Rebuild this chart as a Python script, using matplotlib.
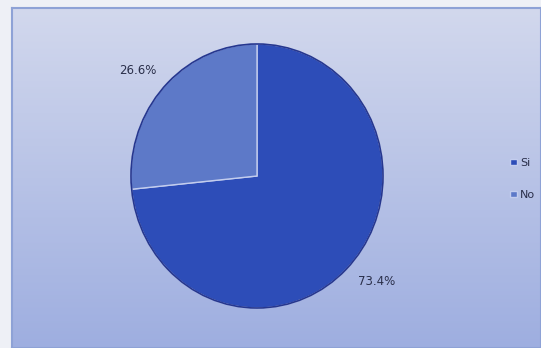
import numpy as np
import matplotlib.pyplot as plt
from matplotlib.patches import Ellipse

labels = ["Si", "No"]
values = [73.4, 26.6]
colors = ["#2d4db8", "#5d79c8"]

W, H = 541, 348
fig = plt.figure(figsize=(W / 100, H / 100), dpi=100)
fig.patch.set_facecolor("#eef0f6")

# gradient fill of the chart area
bg = fig.add_axes([12 / W, 0, 1 - 12 / W, 1 - 8 / H])
top = np.array([210, 216, 237]) / 255
bot = np.array([158, 174, 224]) / 255
t = np.linspace(0, 1, 200)[:, None]
grad = top * (1 - t) + bot * t
bg.imshow(grad[:, None, :].repeat(2, axis=1), aspect="auto", extent=[0, 1, 0, 1])
bg.set_xlim(0, 1)
bg.set_ylim(0, 1)
bg.set_xticks([])
bg.set_yticks([])
for s in bg.spines.values():
    s.set_color("#8ea2d6")
    s.set_linewidth(1.5)

# pie, slightly taller than wide
ax = fig.add_axes([131 / W, 40 / H, 252 / W, 264 / H])
wedges, texts = ax.pie(values, colors=colors, startangle=90, counterclock=False,
                       wedgeprops=dict(edgecolor="#c3cdee", linewidth=1.0))
ax.set_aspect("auto")
ax.set_xlim(-1.0, 1.0)
ax.set_ylim(-1.0, 1.0)
ax.add_patch(Ellipse((0, 0), 2.0, 2.0, fill=False, edgecolor="#26378f",
                     linewidth=1.2, clip_on=False))

# percentage labels outside the slices
ang = 90 - np.cumsum([0] + values[:-1]) * 3.6 - np.array(values) * 1.8 + 2
for v, a in zip(values, np.radians(ang)):
    ax.text(1.24 * np.cos(a), 1.24 * np.sin(a), f"{v:.1f}%", ha="center", va="center",
            fontsize=8.5, color="#2a2f4a", clip_on=False)

leg = fig.legend(wedges, labels, loc="upper left", bbox_to_anchor=(500 / W, 1 - 148 / H),
                 frameon=False, fontsize=8, handlelength=0.6, handleheight=0.5,
                 handletextpad=0.3, labelspacing=2.0, labelcolor="#2a2f4a")

fig.savefig("out.png", dpi=100, facecolor=fig.get_facecolor())
